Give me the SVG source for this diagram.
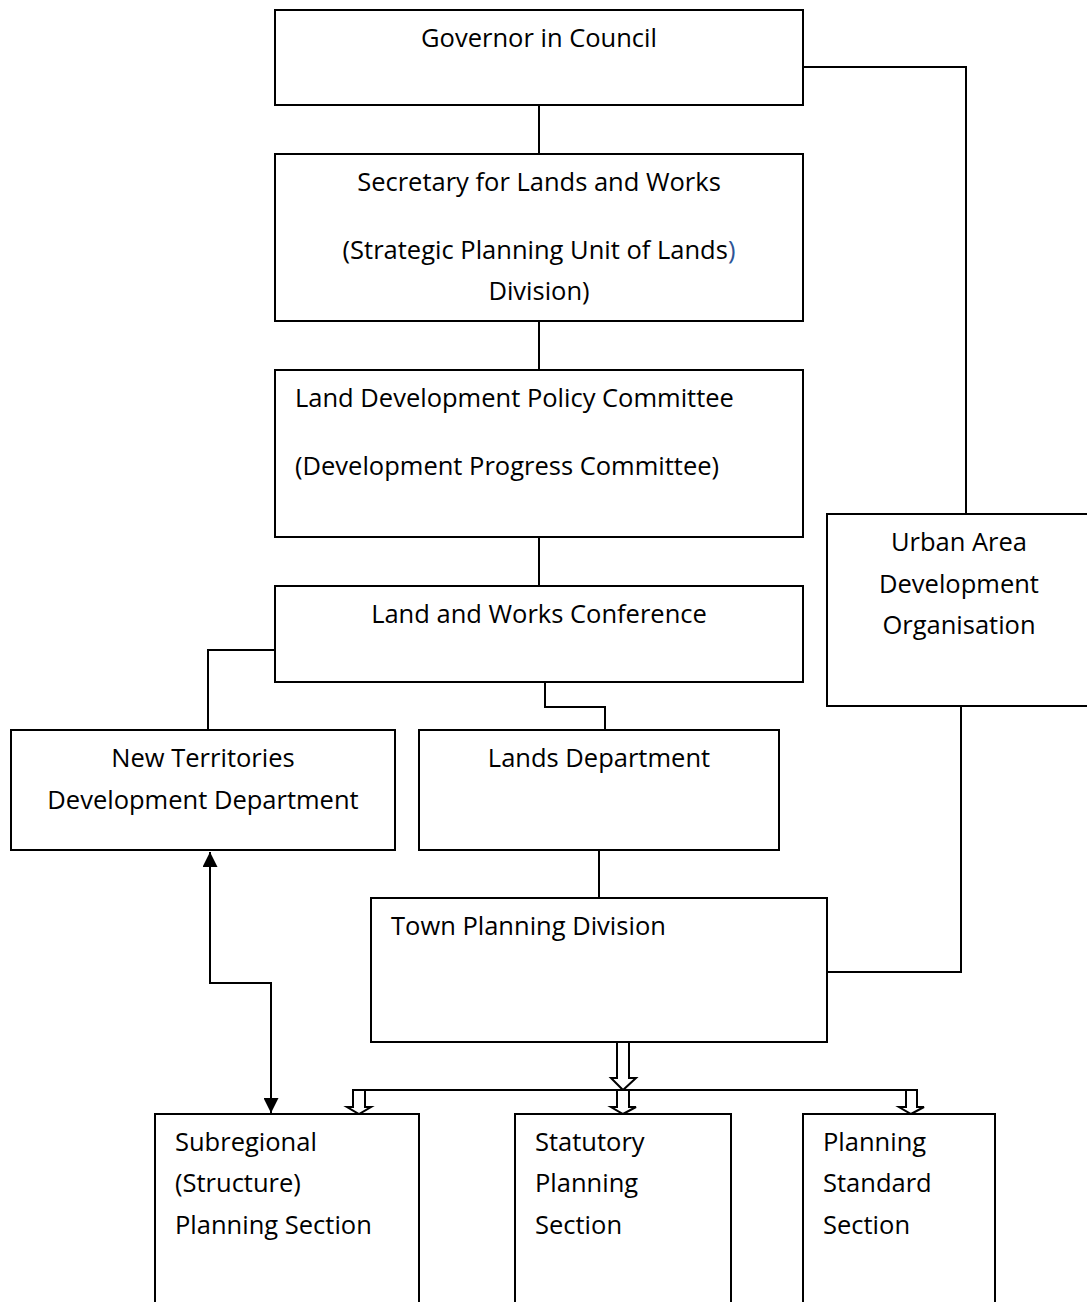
<svg xmlns="http://www.w3.org/2000/svg" width="1087" height="1302" viewBox="0 0 1087 1302">
<defs>
<style>
.box{fill:#fff;stroke:#000;stroke-width:2}
.t{font-family:"Open Sans","Liberation Sans",sans-serif;font-size:25.5px;fill:#000}
.c{text-anchor:middle}
.ln{fill:none;stroke:#000;stroke-width:2}
.ha{fill:#fff;stroke:#000;stroke-width:2;stroke-linejoin:miter}
</style>
<marker id="ah" viewBox="0 0 10 10" refX="10" refY="5" markerWidth="7.5" markerHeight="7.5" markerUnits="strokeWidth" orient="auto-start-reverse">
<path d="M0,0 L10,5 L0,10 z" fill="#000"/>
</marker>
</defs>
<rect width="1087" height="1302" fill="#fff"/>
<g id="connectors">
<line class="ln" x1="539" y1="105" x2="539" y2="154"/>
<line class="ln" x1="539" y1="321" x2="539" y2="370"/>
<line class="ln" x1="539" y1="537" x2="539" y2="586"/>
<polyline class="ln" points="803,67 966,67 966,514"/>
<polyline class="ln" points="961,706 961,972 827,972"/>
<polyline class="ln" points="275,650 208,650 208,730"/>
<polyline class="ln" points="545,682 545,707 605,707 605,730"/>
<line class="ln" x1="599" y1="850" x2="599" y2="898"/>
<polyline class="ln" points="210,852 210,983 271,983 271,1113" marker-start="url(#ah)" marker-end="url(#ah)"/>
<line class="ln" x1="353" y1="1090" x2="918" y2="1090"/>
<polygon class="ha" points="617,1042 629,1042 629,1078 636,1078 623,1090 611,1078 617,1078"/>
<polygon class="ha" points="353,1090 365,1090 365,1107 371,1107 359,1114 347,1107 353,1107"/>
<polygon class="ha" points="617,1090 629,1090 629,1107 636,1107 623,1114 611,1107 617,1107"/>
<polygon class="ha" points="906,1090 917,1090 917,1107 924,1107 911,1114 899,1107 906,1107"/>
</g>
<g id="governor">
<rect class="box" x="275" y="10" width="528" height="95"/>
<text class="t c" x="539" y="47">Governor in Council</text>
</g>
<g id="secretary">
<rect class="box" x="275" y="154" width="528" height="167"/>
<text class="t c" x="539" y="191">Secretary for Lands and Works</text>
<text class="t c" x="539" y="259">(Strategic Planning Unit of Lands<tspan fill="#2F5496">)</tspan></text>
<text class="t c" x="539" y="300">Division)</text>
</g>
<g id="ldpc">
<rect class="box" x="275" y="370" width="528" height="167"/>
<text class="t" x="295" y="407">Land Development Policy Committee</text>
<text class="t" x="295" y="475">(Development Progress Committee)</text>
</g>
<g id="lwc">
<rect class="box" x="275" y="586" width="528" height="96"/>
<text class="t c" x="539" y="623">Land and Works Conference</text>
</g>
<g id="uado">
<rect class="box" x="827" y="514" width="262" height="192"/>
<text class="t c" x="959" y="551">Urban Area</text>
<text class="t c" x="959" y="593">Development</text>
<text class="t c" x="959" y="634">Organisation</text>
</g>
<g id="ntdd">
<rect class="box" x="11" y="730" width="384" height="120"/>
<text class="t c" x="203" y="767">New Territories</text>
<text class="t c" x="203" y="809">Development Department</text>
</g>
<g id="lands">
<rect class="box" x="419" y="730" width="360" height="120"/>
<text class="t c" x="599" y="767">Lands Department</text>
</g>
<g id="tpd">
<rect class="box" x="371" y="898" width="456" height="144"/>
<text class="t" x="391" y="935">Town Planning Division</text>
</g>
<g id="subregional">
<rect class="box" x="155" y="1114" width="264" height="200"/>
<text class="t" x="175" y="1151">Subregional</text>
<text class="t" x="175" y="1192">(Structure)</text>
<text class="t" x="175" y="1234">Planning Section</text>
</g>
<g id="statutory">
<rect class="box" x="515" y="1114" width="216" height="200"/>
<text class="t" x="535" y="1151">Statutory</text>
<text class="t" x="535" y="1192">Planning</text>
<text class="t" x="535" y="1234">Section</text>
</g>
<g id="standard">
<rect class="box" x="803" y="1114" width="192" height="200"/>
<text class="t" x="823" y="1151">Planning</text>
<text class="t" x="823" y="1192">Standard</text>
<text class="t" x="823" y="1234">Section</text>
</g>
</svg>
